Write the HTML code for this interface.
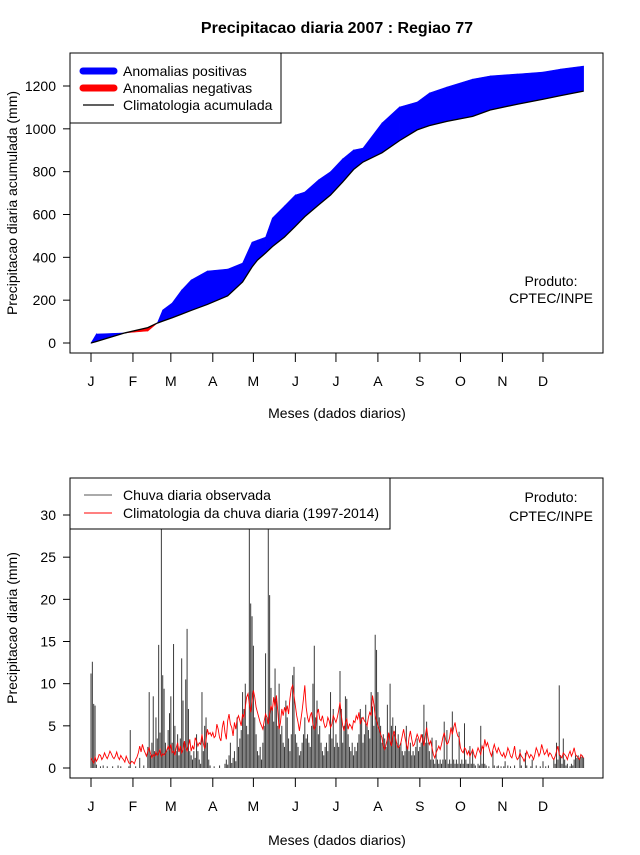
<!DOCTYPE html>
<html><head><meta charset="utf-8"><style>
body{margin:0;background:#fff}
svg text{font-family:"Liberation Sans",sans-serif;fill:#000}
</style></head><body>
<svg id="chart" width="640" height="850" viewBox="0 0 640 850" xmlns="http://www.w3.org/2000/svg">
<rect width="640" height="850" fill="#fff"/>
<text x="337" y="33" text-anchor="middle" font-size="16" font-weight="bold">Precipitacao diaria 2007 : Regiao 77</text>
<g id="top"></g>
<g id="bot"></g>
</svg>
<script>
// ===== Top chart data (cumulative, mm) =====
const cumDays = [1,5,26,43,50,54,61,68,75,87,102,113,120,124,130,135,144,152,159,169,178,187,195,202,216,229,242,251,264,283,296,316,335,348,365];
const obsCum  = [0,42,47,56,93,154,187,247,294,336,345,373,471,480,494,583,640,691,705,761,800,860,901,910,1027,1102,1125,1167,1195,1232,1247,1256,1265,1279,1293];
const climCum = [0,7,47,72,93,102,118,135,152,180,220,285,355,387,420,450,495,545,590,644,691,752,810,845,888,945,995,1015,1035,1058,1088,1115,1138,1155,1176];
const topYTicks = [0,200,400,600,800,1000,1200];
const monthLabels = ["J","F","M","A","M","J","J","A","S","O","N","D"];
const monthStartDays = [1,32,60,91,121,152,182,213,244,274,305,335];

// ===== Bottom chart data (daily, mm) =====
const obsJan=[11.2,12.6,7.6,7.4,0.4,0,0,0.2,0,0.3,0,0,0.2,0,0,0,0.2,0,0,0,0.3,0,0.2,0,0,0,0,0,0.2,4.5,0];
const obsFeb=[0,0,0.2,0,0,1.2,0,0,0.3,0,0,2.5,9.0,1.5,3.0,8.5,2.0,6.0,3.5,14.6,4.2,34,11,9.4,3.0,2.0,4.5,6.5];
const obsMar=[8.5,3.0,14.7,5.0,2.0,4.0,1.5,3.5,13.0,8.0,3.0,10.5,16.5,7.0,2.0,1.5,1.0,2.0,1.2,4.0,2.0,1.0,0.5,9.0,2.0,5.0,6.0,3.0,1.0,0.3,0];
const obsApr=[0,0.2,0,0,0,0.3,0,0,0,0.5,1.0,0.4,1.5,3.0,0.6,1.2,2.0,0.8,6.0,2.5,3.5,4.5,9.0,7.0,10.0,5.0,4.0,34,19.5,18];
const obsMay=[14.5,6.0,4.0,2.0,1.5,2.5,1.0,3.0,5.0,13.6,6.0,34,20.5,9.5,7.0,5.5,11.8,8.0,5.0,10.0,4.0,5.0,3.0,2.5,8.0,6.0,3.5,2.0,4.0,11.0,12.0];
const obsJun=[4.0,3.0,2.5,1.5,2.0,3.0,4.0,6.0,3.5,4.0,3.0,2.5,5.0,10.0,14.5,6.0,8.0,4.0,5.0,3.0,2.0,1.5,2.5,3.0,2.0,4.0,9.0,3.5,7.0,2.5];
const obsJul=[4.0,3.0,2.5,11.5,7.0,3.0,5.0,8.5,8.2,4.0,2.5,2.0,3.0,1.5,2.5,2.0,3.0,4.0,7.0,6.0,3.0,4.0,7.5,5.0,4.5,3.5,9.0,7.3,5.0,15.8,14.0];
const obsAug=[9.0,6.0,5.0,3.0,4.0,3.5,2.5,7.5,4.0,10.0,5.0,6.0,4.0,5.0,3.0,4.0,2.5,3.0,2.0,1.5,2.0,5.0,2.5,2.0,3.0,1.5,2.0,1.5,2.5,3.5,2.0];
const obsSep=[2.5,3.0,4.0,7.5,3.0,5.5,3.0,2.0,1.0,3.6,1.0,0.5,3.3,1.0,0.5,1.0,0.5,1.0,5.5,1.0,4.5,0.5,1.0,0.5,6.7,1.0,0.5,1.0,0.5,4.3];
const obsOct=[0.5,1.0,0.5,5.3,1.0,0.5,0.5,2.6,0.5,2.0,0.5,0.3,0,0.5,0.3,5.0,0.5,2.5,0.5,0.3,0,0.2,0,0,2.0,0.3,0,0.2,0.3,0,0.2];
const obsNov=[0,0.2,0.8,0,0.3,0,0.2,0,0,0.3,0,0,0,2.2,0.3,0,0,1.8,0.3,0,0,0.2,1.0,0,0,0.3,0,0,0.2,0];
const obsDec=[0.8,0,0.2,0,0.3,0,0,0,1.0,0.5,3.0,1.0,9.8,1.5,0.5,3.5,1.0,0.3,0.5,0,0.2,0.5,0.3,1.0,1.5,1.2,1.5,1.0,1.3,1.5,1.2];

const climJan=[1.2,0.9,0.6,1.3,0.8,1.1,1.6,1.5,1.0,1.3,1.8,1.4,1.1,1.5,2.0,1.7,1.3,1.1,1.4,1.9,1.3,1.0,1.5,1.2,1.0,0.7,1.4,1.0,0.6,0.5,0.8];
const climFeb=[0.7,0.5,1.0,1.3,1.8,2.6,1.9,2.8,2.2,1.8,1.4,2.0,2.4,1.7,1.2,1.6,1.4,1.9,1.5,1.8,2.2,1.4,1.7,1.5,1.8,2.1,2.6,2.2];
const climMar=[2.8,1.8,2.0,1.5,2.4,3.0,1.9,2.6,1.8,2.2,3.2,2.4,2.0,2.6,3.4,2.0,2.6,2.2,3.6,3.2,2.6,3.0,2.8,4.0,2.9,2.3,3.3,4.6,4.0,4.2,3.8];
const climApr=[4.2,3.6,3.8,5.2,4.6,3.6,3.2,4.8,5.6,4.2,3.4,5.6,6.4,5.2,4.8,3.8,5.4,4.6,5.8,6.2,5.6,5.0,6.4,6.0,7.2,8.4,8.8,7.6,6.6,8.0];
const climMay=[9.2,8.4,7.2,6.6,6.0,5.4,5.0,4.6,5.6,6.4,6.0,5.2,6.4,7.4,6.8,8.4,7.2,8.6,6.8,4.6,5.4,7.0,6.2,7.2,6.6,7.4,6.4,8.2,9.4,9.8,8.6];
const climJun=[7.4,6.2,5.4,4.4,5.6,6.8,8.2,9.8,7.2,6.0,5.4,6.2,6.6,5.2,4.6,5.0,6.4,7.0,5.8,5.6,6.2,5.4,4.8,5.0,6.0,5.6,4.8,5.2,6.2,5.8];
const climJul=[5.4,6.0,6.8,7.8,6.2,5.0,4.4,5.4,5.8,4.6,5.2,5.0,4.6,5.6,5.4,6.2,5.8,6.6,5.2,5.8,6.0,5.6,5.4,5.0,6.0,6.6,6.2,8.6,7.6,6.2,5.6];
const climAug=[5.0,4.6,4.0,3.6,2.6,2.2,2.8,3.4,4.2,3.2,2.6,3.8,4.4,3.6,2.8,2.4,2.6,3.0,3.8,4.6,3.6,2.8,2.2,3.6,4.4,3.4,2.6,2.8,3.4,4.0,3.6];
const climSep=[3.0,4.0,3.4,2.6,3.8,4.8,3.6,2.8,3.2,2.4,1.6,1.2,1.8,2.2,2.6,2.2,2.8,3.6,4.2,3.4,2.8,3.0,3.6,4.8,4.0,4.8,5.4,4.4,3.8,3.6];
const climOct=[2.4,2.0,1.8,2.4,2.2,1.6,2.0,1.4,1.8,2.2,1.6,1.2,1.8,2.4,2.0,1.6,2.6,2.2,3.4,2.6,3.0,2.4,1.8,1.4,2.2,2.8,2.2,1.8,2.4,2.0,1.6];
const climNov=[1.4,1.8,1.2,1.6,2.4,2.0,1.4,1.2,1.8,2.6,1.4,1.0,1.2,1.8,1.4,1.2,0.8,1.2,2.0,1.6,1.2,1.6,1.4,1.0,1.6,2.4,2.0,1.4,1.8,2.8];
const climDec=[2.2,1.6,1.8,2.2,1.4,1.8,1.6,1.2,1.0,1.4,2.0,2.6,1.6,1.4,1.2,1.8,1.6,1.4,1.0,1.6,2.0,1.4,1.8,2.4,1.6,1.4,1.2,1.0,1.6,1.4,1.2];
const botYTicks = [0,5,10,15,20,25,30];

const obsDaily = [].concat(obsJan,obsFeb,obsMar,obsApr,obsMay,obsJun,obsJul,obsAug,obsSep,obsOct,obsNov,obsDec);
const climDaily = [].concat(climJan,climFeb,climMar,climApr,climMay,climJun,climJul,climAug,climSep,climOct,climNov,climDec);

const NS = "http://www.w3.org/2000/svg";
function mk(parent, tag, attrs, txt){
  const e = document.createElementNS(NS, tag);
  for (const k in attrs) e.setAttribute(k, attrs[k]);
  if (txt !== undefined) e.textContent = txt;
  parent.appendChild(e);
  return e;
}
const xDay = d => 91 + (d - 1) * 1.3533;

function axes(g, box, yScale, yTicks, yTitle, xTitleY){
  const r = mk(g,'rect',{x:box.x0,y:box.y0,width:box.x1-box.x0,height:box.y1-box.y0,fill:'none',stroke:'#000','stroke-width':1});
  
  
  yTicks.forEach(v=>{
    const y = yScale(v);
    const t = mk(g,'line',{x1:box.x0-7,x2:box.x0,y1:y,y2:y,stroke:'#000'});
    
    
    const l = mk(g,'text',{x:box.x0-14,y:y+5,'text-anchor':'end','font-size':14},String(v));
    
    
  });
  monthStartDays.forEach((d,i)=>{
    const x = xDay(d);
    const t = mk(g,'line',{x1:x,x2:x,y1:box.y1,y2:box.y1+9,stroke:'#000'});
    
    
    const l = mk(g,'text',{x:x,y:box.y1+33,'text-anchor':'middle','font-size':14},monthLabels[i]);
    
    
  });
  const cy = (box.y0+box.y1)/2;
  const yt = mk(g,'text',{x:0,y:0,'text-anchor':'middle','font-size':14,transform:`translate(17,${cy}) rotate(-90)`},yTitle);
  
  
  const xt = mk(g,'text',{x:337,y:xTitleY,'text-anchor':'middle','font-size':14},'Meses (dados diarios)');
  
  
}

// ---------- Top chart ----------
(function(){
  const g = document.getElementById('top');
  const box = {x0:70,y0:53,x1:603,y1:353};
  const yS = v => 343 - v * 0.21417;
  for (let i=0;i<cumDays.length-1;i++){
    const xa=xDay(cumDays[i]), xb=xDay(cumDays[i+1]);
    const pos = (obsCum[i]+obsCum[i+1]) >= (climCum[i]+climCum[i+1]);
    const col = pos ? '#0000ff' : '#ff0000';
    const p = mk(g,'polygon',{points:`${xa},${yS(obsCum[i])} ${xb},${yS(obsCum[i+1])} ${xb},${yS(climCum[i+1])} ${xa},${yS(climCum[i])}`,fill:col,stroke:col,'stroke-width':0.6});
    
    
  }
  const pts = cumDays.map((d,i)=>`${xDay(d)},${yS(climCum[i])}`).join(' ');
  const cl = mk(g,'polyline',{points:pts,fill:'none',stroke:'#000','stroke-width':1.3});
  
  
  axes(g,box,yS,topYTicks,'Precipitacao diaria acumulada (mm)',418);
  const lg = mk(g,'g',{});
  
  
  mk(lg,'rect',{x:70,y:53,width:211,height:70,fill:'#fff',stroke:'#000'});
  const ents=[['Anomalias positivas','#0000ff',7,71],['Anomalias negativas','#ff0000',7,88],['Climatologia acumulada','#000',1.3,105]];
  ents.forEach(e=>{
    const en = mk(lg,'g',{});
    
    
    mk(en,'line',{x1:83,x2:114,y1:e[3],y2:e[3],stroke:e[1],'stroke-width':e[2],'stroke-linecap':e[2]>2?'round':'butt'});
    mk(en,'text',{x:123,y:e[3]+5,'font-size':14},e[0]);
  });
  const p1 = mk(g,'text',{x:551,y:286,'text-anchor':'middle','font-size':14},'Produto:');
  
  
  const p2 = mk(g,'text',{x:551,y:303,'text-anchor':'middle','font-size':14},'CPTEC/INPE');
  
  
})();

// ---------- Bottom chart ----------
(function(){
  const g = document.getElementById('bot');
  const box = {x0:70,y0:478,x1:603,y1:778};
  const yS = v => 768 - v * 8.433;
  const bars = mk(g,'g',{});
  
  
  obsDaily.forEach((v,i)=>{
    const x = xDay(i+1);
    const y = Math.max(box.y0, yS(v));
    const b = mk(bars,'line',{x1:x,x2:x,y1:yS(0),y2:y,stroke:'#3a3a3a','stroke-width':1});
    
    
  });
  const pts = climDaily.map((v,i)=>`${xDay(i+1)},${yS(v)}`).join(' ');
  const cl = mk(g,'polyline',{points:pts,fill:'none',stroke:'#ff0000','stroke-width':0.9});
  
  
  axes(g,box,yS,botYTicks,'Precipitacao diaria (mm)',845);
  const lg = mk(g,'g',{});
  
  
  mk(lg,'rect',{x:70,y:478,width:320,height:51,fill:'#fff',stroke:'#000'});
  const ents=[['Chuva diaria observada','#555',495],['Climatologia da chuva diaria (1997-2014)','#ff0000',513]];
  ents.forEach(e=>{
    const en = mk(lg,'g',{});
    
    
    mk(en,'line',{x1:84,x2:112,y1:e[2],y2:e[2],stroke:e[1],'stroke-width':1});
    mk(en,'text',{x:123,y:e[2]+5,'font-size':14},e[0]);
  });
  const p1 = mk(g,'text',{x:551,y:502,'text-anchor':'middle','font-size':14},'Produto:');
  
  
  const p2 = mk(g,'text',{x:551,y:521,'text-anchor':'middle','font-size':14},'CPTEC/INPE');
  
  
})();
</script>
</body></html>
